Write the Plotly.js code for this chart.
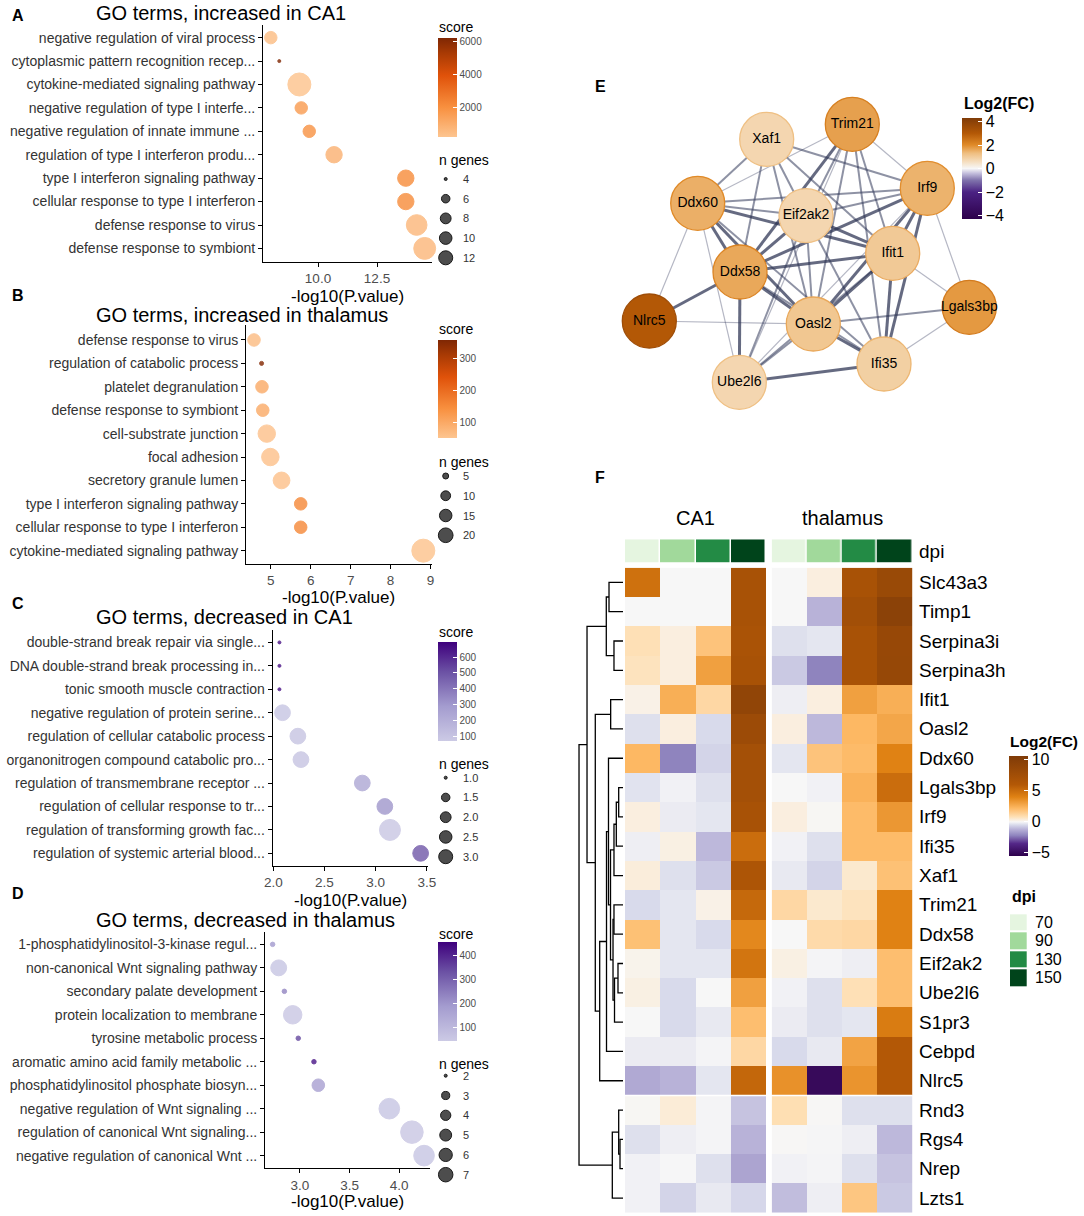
<!DOCTYPE html>
<html><head><meta charset="utf-8">
<script src="https://cdn.plot.ly/plotly-3.0.1.min.js"></script>
<style>html,body{margin:0;padding:0;background:#fff}#chart{width:1084px;height:1216px}</style>
</head><body><div id="chart"></div>
<script>
// ---------------- DATA ----------------
// Panel A
const termsA=['negative regulation of viral process','cytoplasmic pattern recognition recep...','cytokine-mediated signaling pathway','negative regulation of type I interfe...','negative regulation of innate immune ...','regulation of type I interferon produ...','type I interferon signaling pathway','cellular response to type I interferon','defense response to virus','defense response to symbiont'];
const pA=[8.0,8.36,9.21,9.29,9.63,10.68,13.72,13.72,14.18,14.52];
const nA=[6,4,13,6,6,8,8,8,11,12];
const scoreA=[500,6200,300,1600,1900,900,2100,2100,700,700];
const xTickValsA=[10,12.5], xTickTextA=['10.0','12.5'];
const scoreTicksA=[2000,4000,6000];
const nBreaksA=[4,6,8,10,12];
// Panel B
const termsB=['defense response to virus','regulation of catabolic process','platelet degranulation','defense response to symbiont','cell-substrate junction','focal adhesion','secretory granule lumen','type I interferon signaling pathway','cellular response to type I interferon','cytokine-mediated signaling pathway'];
const pB=[4.58,4.77,4.78,4.80,4.90,4.99,5.27,5.75,5.75,8.82];
const nB=[6,2,6,6,12,12,11,6,6,22];
const scoreB=[65,350,95,95,55,55,55,150,150,52];
const xTickValsB=[5,6,7,8,9], xTickTextB=['5','6','7','8','9'];
const scoreTicksB=[100,200,300];
const nBreaksB=[5,10,15,20];
// Panel C
const termsC=['double-strand break repair via single...','DNA double-strand break processing in...','tonic smooth muscle contraction','negative regulation of protein serine...','regulation of cellular catabolic process','organonitrogen compound catabolic pro...','regulation of transmembrane receptor ...','regulation of cellular response to tr...','regulation of transforming growth fac...','regulation of systemic arterial blood...'];
const pC=[2.06,2.06,2.06,2.09,2.24,2.27,2.87,3.09,3.14,3.44];
const nC=[1,1,1,2,2,2,2,2,3,2];
const scoreC=[660,660,660,95,100,100,230,300,85,480];
const xTickValsC=[2,2.5,3,3.5], xTickTextC=['2.0','2.5','3.0','3.5'];
const scoreTicksC=[100,200,300,400,500,600];
const nBreaksC=[1,1.5,2,2.5,3];
// Panel D
const termsD=['1-phosphatidylinositol-3-kinase regul...','non-canonical Wnt signaling pathway','secondary palate development','protein localization to membrane','tyrosine metabolic process','aromatic amino acid family metabolic ...','phosphatidylinositol phosphate biosyn...','negative regulation of Wnt signaling ...','regulation of canonical Wnt signaling...','negative regulation of canonical Wnt ...'];
const pD=[2.725,2.786,2.843,2.927,2.983,3.141,3.185,3.90,4.128,4.25];
const nD=[2,4,2,5,2,2,3,6,7,6];
const scoreD=[190,60,230,55,340,420,170,60,55,60];
const xTickValsD=[3,3.5,4], xTickTextD=['3.0','3.5','4.0'];
const scoreTicksD=[100,200,300,400];
const nBreaksD=[2,3,4,5,6,7];
// Panel E (network)
const nodeNames=['Xaf1','Trim21','Irf9','Ddx60','Eif2ak2','Ifit1','Ddx58','Nlrc5','Oasl2','Lgals3bp','Ifi35','Ube2l6'];
const nodeX=[766.7,852.3,927.3,697.7,806,892.7,740,649.3,813.3,969.3,884,739.3];
const nodeY=[139.3,124.3,188.3,203.3,215.7,253.3,272,321,324,307.3,364,382.3];
const nodeFC=[0.75,1.7,1.45,1.5,0.75,1.05,1.6,3.0,1.1,1.8,0.9,0.75];
const edgeFrom=['Nlrc5','Nlrc5','Nlrc5','Ddx60','Ddx60','Ddx60','Ddx60','Ddx60','Ddx60','Ddx60','Ddx60','Ddx60','Xaf1','Xaf1','Xaf1','Xaf1','Xaf1','Trim21','Trim21','Trim21','Trim21','Trim21','Trim21','Trim21','Irf9','Irf9','Irf9','Irf9','Irf9','Irf9','Irf9','Eif2ak2','Eif2ak2','Eif2ak2','Eif2ak2','Eif2ak2','Ifit1','Ifit1','Ifit1','Ifit1','Ifit1','Ddx58','Ddx58','Ddx58','Oasl2','Oasl2','Oasl2','Lgals3bp','Ube2l6'];
const edgeTo=['Ddx60','Ddx58','Oasl2','Xaf1','Trim21','Irf9','Eif2ak2','Ifit1','Ddx58','Oasl2','Ube2l6','Ifi35','Ddx58','Eif2ak2','Ifit1','Irf9','Oasl2','Ddx58','Eif2ak2','Oasl2','Ifit1','Ifi35','Irf9','Ube2l6','Eif2ak2','Ddx58','Ifit1','Oasl2','Ifi35','Lgals3bp','Ube2l6','Ddx58','Ifit1','Oasl2','Ifi35','Ube2l6','Ddx58','Oasl2','Ifi35','Lgals3bp','Ube2l6','Oasl2','Ube2l6','Ifi35','Lgals3bp','Ifi35','Ube2l6','Ifi35','Ifi35'];
const edgeW=[1,3,1,2,1,2,2,3,3,3,1,2,2,2,2,2,2,3,2,2,2,2,1,1,2,3,3,3,3,1,1,3,3,2,2,2,3,3,3,1,2,3,3,2,2,3,2,1,3];
const fcTicksE=[-4,-2,0,2,4];
// Panel F (heatmap)
const genes=['Slc43a3','Timp1','Serpina3i','Serpina3h','Ifit1','Oasl2','Ddx60','Lgals3bp','Irf9','Ifi35','Xaf1','Trim21','Ddx58','Eif2ak2','Ube2l6','S1pr3','Cebpd','Nlrc5','Rnd3','Rgs4','Nrep','Lzts1'];
const ca1FC=[[4.8,0,0,7],[0,0,0,7],[0.8,0.3,1.8,6.8],[0.7,0.3,3,7],[0.2,2.5,1.1,9],[-0.4,0.3,-0.5,8],[2.2,-2.2,-0.6,7.3],[-0.35,-0.1,-0.4,7.3],[0.3,-0.2,-0.3,7],[-0.15,0.25,-1.1,5],[0.35,-0.4,-0.8,6.5],[-0.5,-0.3,0.2,5.2],[1.9,-0.3,-0.5,3.8],[0.15,-0.3,-0.3,4.6],[0.25,-0.5,0,3],[0,-0.5,-0.25,2],[-0.2,-0.2,-0.05,1.1],[-1.4,-1.2,-0.3,5.3],[0.05,0.4,-0.05,-0.9],[-0.4,-0.15,-0.05,-1.2],[-0.1,-0.02,-0.4,-1.5],[-0.1,-0.6,-0.25,-0.55]];
const thalFC=[[0,0.3,7,8.3],[0,-1.2,7.5,9.5],[-0.4,-0.3,7,8.5],[-0.8,-2.2,7,8.6],[-0.15,0.3,3,2.5],[0.3,-1.1,2.2,2.8],[-0.3,1.8,2.1,4],[0,-0.1,2.4,5],[0.3,0.05,2.1,3.3],[-0.1,-0.4,2.1,2.1],[-0.25,-0.6,0.5,1.9],[1.1,0.5,0.7,4],[0,1.0,1.1,4],[0.25,-0.05,-0.15,2],[-0.1,-0.4,0.8,2],[-0.2,-0.4,-0.3,4.3],[-0.5,-0.25,2.9,6],[3.5,-5,3.4,6],[0.85,0.03,-0.4,-0.4],[0.02,-0.03,-0.15,-1.1],[-0.1,-0.05,-0.4,-0.9],[-1.0,-0.15,1.7,-0.8]];
const dpiLevels=[70,90,130,150];
const dpiColors=['#E5F5E0','#A1D99B','#238B45','#00441B'];
const groups=['CA1','thalamus'];
const fcTicksF=[-5,0,5,10];
// dendrogram (R hclust style: negative = leaf index 1-based, positive = merge step)
const mergeA=[-1,-3,1,-5,-8,5,6,-12,-14,9,8,7,-7,13,14,4,3,-20,-19,19,17];
const mergeB=[-2,-4,2,-6,-9,-10,-11,-13,-15,-16,10,11,12,-17,-18,15,16,-21,18,-22,20];
const mergeH=[3.18,2.05,3.8,2.8,0.98,1.52,2.05,2.05,1.14,1.93,2.27,2.84,3.3,3.75,5.3,6.3,8.18,0.68,0.98,2.43,10];

// ---------------- HELPERS ----------------
const W=1084,H=1216;
const FONT='Liberation Sans, Arial, Helvetica, sans-serif';
const xd=(a,b)=>[a/W,b/W];
const yd=(a,b)=>[1-b/H,1-a/H];
const traces=[],annotations=[],shapes=[];
function ann(text,x,y,o){annotations.push(Object.assign({text:text,x:x/W,y:1-y/H,xref:'paper',yref:'paper',showarrow:false,xanchor:'center',yanchor:'middle',font:{size:14,color:'#000',family:FONT}},o||{}));}
const layout={width:W,height:H,margin:{l:0,r:0,t:0,b:0,pad:0},paper_bgcolor:'#ffffff',plot_bgcolor:'rgba(0,0,0,0)',showlegend:false,font:{family:FONT,color:'#000'},annotations:annotations,shapes:shapes,hovermode:false};
const orangeCS=[[0,'#FDC590'],[0.3,'#F8903F'],[0.62,'#E0520A'],[0.85,'#A83A04'],[1,'#7F2704']];
const purpleCS=[[0,'#CCCAE5'],[0.35,'#A49CCF'],[0.7,'#6B51A4'],[1,'#3F007D']];
function cbar(x,top,bottom,thick,ticks,fontSize,color){
  return {x:x/W,xanchor:'left',xpad:0,y:1-top/H,yanchor:'top',ypad:0,lenmode:'pixels',len:bottom-top,thicknessmode:'pixels',thickness:thick,
    outlinewidth:0,ticks:'inside',ticklen:4,tickwidth:1,tickcolor:'#ffffff',tickvals:ticks,ticktext:ticks.map(v=>String(v).replace('-','\u2212')),
    tickfont:{size:fontSize,color:color,family:FONT},title:{text:''}};
}
// overlay pixel axes for legends
layout.xaxis10={domain:[0,1],range:[0,W],visible:false,anchor:'y10',fixedrange:true};
layout.yaxis10={domain:[0,1],range:[H,0],visible:false,anchor:'x10',fixedrange:true};

// ---------------- PANELS A-D ----------------
const panels=[
 {k:1,label:'A',labelY:15,title:'GO terms, increased in CA1',titleY:13,terms:termsA,p:pA,n:nA,score:scoreA,box:[263,432,25,262],xr:[7.67,14.83],yr:[9.58,-0.54],tv:xTickValsA,tt:xTickTextA,cs:orangeCS,cr:[250,6250],cb:[37.7,136.7],cbt:scoreTicksA,sz:[4,13,3,23],lsz:[3,14.7],br:nBreaksA,brY:[179,19.7],scoreY:26.7,nY:160,axY:296,fmt:0},
 {k:2,label:'B',labelY:295,title:'GO terms, increased in thalamus',titleY:315,terms:termsB,p:pB,n:nB,score:scoreB,box:[246,431.7,325,564],xr:[4.38,9.03],yr:[9.57,-0.64],tv:xTickValsB,tt:xTickTextB,cs:orangeCS,cr:[50,357],cb:[340,438.3],cbt:scoreTicksB,sz:[2,22,4,23],lsz:[0,15.5],br:nBreaksB,brY:[476,19.75],scoreY:329,nY:461.7,axY:597.3,fmt:0},
 {k:3,label:'C',labelY:603,title:'GO terms, decreased in CA1',titleY:616.7,terms:termsC,p:pC,n:nC,score:scoreC,box:[272.7,428,630,866],xr:[1.994,3.512],yr:[9.54,-0.53],tv:xTickValsC,tt:xTickTextC,cs:purpleCS,cr:[75,696],cb:[641.7,740.7],cbt:scoreTicksC,sz:[1,3,3,21],lsz:[3,14],br:nBreaksC,brY:[777.7,19.75],scoreY:631.7,nY:764,axY:900,fmt:1},
 {k:4,label:'D',labelY:893,title:'GO terms, decreased in thalamus',titleY:920,terms:termsD,p:pD,n:nD,score:scoreD,box:[265,430,931.7,1168.3],xr:[2.648,4.31],yr:[9.54,-0.54],tv:xTickValsD,tt:xTickTextD,cs:purpleCS,cr:[46,458],cb:[941.7,1040.7],cbt:scoreTicksD,sz:[2,7,4.5,22.5],lsz:[3,14.5],br:nBreaksD,brY:[1075.7,19.8],scoreY:934,nY:1064,axY:1201.7,fmt:0}
];
panels.forEach(c=>{
  const s=c.k===1?'':String(c.k);
  const sizeOf=(n,d0,d1)=>d0+(d1-d0)*Math.sqrt(Math.max(0,Math.min(1,(n-c.sz[0])/(c.sz[1]-c.sz[0]))));
  traces.push({type:'scatter',mode:'markers',x:c.p,y:c.terms,xaxis:'x'+s,yaxis:'y'+s,cliponaxis:false,hoverinfo:'skip',
    marker:{size:c.n.map(n=>sizeOf(n,c.sz[2],c.sz[3])),color:c.score,colorscale:c.cs,cmin:c.cr[0],cmax:c.cr[1],opacity:0.82,
      line:{width:1,color:c.score,colorscale:c.cs,cmin:c.cr[0],cmax:c.cr[1]},
      showscale:true,colorbar:cbar(437.7,c.cb[0],c.cb[1],19,c.cbt,10,'#4d4d4d')}});
  layout['xaxis'+s]={domain:xd(c.box[0],c.box[1]),range:c.xr,anchor:'y'+s,showline:true,linecolor:'#000',linewidth:1,ticks:'outside',ticklen:4,tickcolor:'#000',tickwidth:1,
    tickmode:'array',tickvals:c.tv,ticktext:c.tt,tickfont:{size:13.5,color:'#4d4d4d',family:FONT},showgrid:false,zeroline:false,fixedrange:true};
  layout['yaxis'+s]={domain:yd(c.box[2],c.box[3]),type:'category',categoryorder:'array',categoryarray:c.terms,range:c.yr,anchor:'x'+s,showline:true,linecolor:'#000',linewidth:1,
    ticks:'outside',ticklen:4,tickcolor:'#000',tickwidth:1,tickfont:{size:14,color:'#333',family:FONT},showgrid:false,zeroline:false,fixedrange:true};
  ann('<b>'+c.label+'</b>',18,c.labelY,{font:{size:16,color:'#000',family:FONT}});
  ann(c.title,94,c.titleY,{xanchor:'left',font:{size:20,color:'#000',family:FONT}});
  ann('-log10(P.value)',(c.box[0]+c.box[1])/2,c.axY,{font:{size:17,color:'#000',family:FONT}});
  ann('score',437,c.scoreY,{xanchor:'left',font:{size:14,color:'#000',family:FONT}});
  ann('n genes',437,c.nY,{xanchor:'left',font:{size:14,color:'#000',family:FONT}});
  const ly=c.br.map((b,i)=>c.brY[0]+i*c.brY[1]);
  traces.push({type:'scatter',mode:'markers',x:c.br.map(()=>445.7),y:ly,xaxis:'x10',yaxis:'y10',cliponaxis:false,hoverinfo:'skip',
    marker:{size:c.br.map(b=>sizeOf(b,c.lsz[0],c.lsz[1])),color:'#3a3a3a',opacity:0.9,line:{width:1,color:'#000'}}});
  c.br.forEach((b,i)=>ann(c.fmt?b.toFixed(1):String(b),461,ly[i],{xanchor:'left',font:{size:11,color:'#333',family:FONT}}));
});

// ---------------- PANEL E ----------------
ann('<b>E</b>',600,86.7,{font:{size:16,color:'#000',family:FONT}});
layout.xaxis5={domain:xd(620,1000),range:[620,1000],visible:false,anchor:'y5',fixedrange:true};
layout.yaxis5={domain:yd(90,410),range:[410,90],visible:false,anchor:'x5',fixedrange:true};
const edgeStyle={1:{w:1.2,c:'rgba(60,66,100,0.38)'},2:{w:2.0,c:'rgba(50,56,90,0.55)'},3:{w:3.0,c:'rgba(42,48,80,0.72)'}};
[1,2,3].forEach(wt=>{
  const ex=[],ey=[];
  edgeFrom.forEach((f,i)=>{ if(edgeW[i]!==wt) return; const a=nodeNames.indexOf(f),b=nodeNames.indexOf(edgeTo[i]);
    ex.push(nodeX[a],nodeX[b],null); ey.push(nodeY[a],nodeY[b],null);});
  traces.push({type:'scatter',mode:'lines',x:ex,y:ey,xaxis:'x5',yaxis:'y5',hoverinfo:'skip',line:{width:edgeStyle[wt].w,color:edgeStyle[wt].c}});
});
const fcCS_E=[[0,'#2D004B'],[0.267,'#4B2283'],[0.384,'#8073AC'],[0.453,'#C4BFDD'],[0.5,'#F7F7F7'],[0.57,'#F5DDBD'],[0.651,'#EFBE80'],[0.733,'#E08A28'],[0.849,'#B35806'],[1,'#7F3B08']];
traces.push({type:'scatter',mode:'markers+text',x:nodeX,y:nodeY,text:nodeNames,textposition:'middle center',textfont:{size:14,color:'#000',family:FONT},
  xaxis:'x5',yaxis:'y5',cliponaxis:false,hoverinfo:'skip',
  marker:{size:54,color:nodeFC,colorscale:fcCS_E,cmin:-4.3,cmax:4.3,opacity:1,
    line:{width:1.3,color:nodeFC.map(v=>v+0.5),colorscale:fcCS_E,cmin:-4.3,cmax:4.3},
    showscale:true,colorbar:cbar(962.3,118.3,219.3,20,fcTicksE,16,'#000')}});
ann('<b>Log2(FC)</b>',999.3,103.3,{font:{size:16,color:'#000',family:FONT}});

// ---------------- PANEL F ----------------
ann('<b>F</b>',600,477.3,{font:{size:16,color:'#000',family:FONT}});
const rowIdx=genes.map((g,i)=>i);
const colIdx=[0,1,2,3];
layout.xaxis6={domain:xd(625,766),range:[-0.5,3.5],visible:false,anchor:'y6',fixedrange:true};
layout.xaxis7={domain:xd(771.7,912.3),range:[-0.5,3.5],visible:false,anchor:'y6',fixedrange:true};
layout.yaxis6={domain:yd(539.3,562.7),range:[-0.5,0.5],visible:false,anchor:'x6',fixedrange:true};
layout.yaxis7={domain:yd(567.7,1212.7),range:[genes.length-0.5,-0.5],visible:false,anchor:'x6',fixedrange:true};
const dMin=dpiLevels[0],dMax=dpiLevels[dpiLevels.length-1];
const dpiCS=[];
dpiLevels.forEach((lv,i)=>{
  const lo=i===0?0:((dpiLevels[i-1]+lv)/2-dMin)/(dMax-dMin);
  const hi=i===dpiLevels.length-1?1:((dpiLevels[i+1]+lv)/2-dMin)/(dMax-dMin);
  dpiCS.push([lo,dpiColors[i]],[hi,dpiColors[i]]);
});
['x6','x7'].forEach(xa=>traces.push({type:'heatmap',x:colIdx,y:[0],z:[dpiLevels],xaxis:xa,yaxis:'y6',colorscale:dpiCS,zmin:dMin,zmax:dMax,showscale:false,xgap:1.5,hoverinfo:'skip'}));
const zLo=-5.5,zHi=10.6;
const heatStops=[[-5.5,'#2D004B'],[-3.5,'#542788'],[-2.2,'#8F84BE'],[-1.2,'#B8B2D8'],[-0.5,'#D8DAEB'],[0,'#F7F7F7'],[0.8,'#FEE0B6'],[2.2,'#FDB863'],[4,'#E08214'],[6,'#B35806'],[10.6,'#7F3B08']];
const heatCS=heatStops.map(s=>[(s[0]-zLo)/(zHi-zLo),s[1]]);
traces.push({type:'heatmap',x:colIdx,y:rowIdx,z:ca1FC,xaxis:'x6',yaxis:'y7',colorscale:heatCS,zmin:zLo,zmax:zHi,hoverinfo:'skip',
  showscale:true,colorbar:cbar(1009,756,856,19.3,fcTicksF,16,'#000')});
traces.push({type:'heatmap',x:colIdx,y:rowIdx,z:thalFC,xaxis:'x7',yaxis:'y7',colorscale:heatCS,zmin:zLo,zmax:zHi,showscale:false,hoverinfo:'skip'});
ann('<b>Log2(FC)</b>',1008,741.7,{xanchor:'left',font:{size:15.5,color:'#000',family:FONT}});
shapes.push({type:'line',xref:'paper',yref:'y7',x0:625/W,x1:912.3/W,y0:17.5,y1:17.5,line:{color:'#ffffff',width:1.5}});
ann(groups[0],695.5,518.3,{font:{size:20,color:'#000',family:FONT}});
ann(groups[1],842,518.3,{font:{size:20,color:'#000',family:FONT}});
ann('dpi',917,551,{xanchor:'left',font:{size:19,color:'#000',family:FONT}});
genes.forEach((g,i)=>annotations.push({text:g,xref:'paper',x:917/W,yref:'y7',y:i,xanchor:'left',yanchor:'middle',showarrow:false,font:{size:19,color:'#000',family:FONT}}));
// dendrogram
layout.xaxis8={domain:xd(570,623),range:[12.05,0],visible:false,anchor:'y7',fixedrange:true};
(function(){
  const nY=[],nH=[],xs=[],ys=[];
  const gY=id=>id<0?(-id-1):nY[id-1], gH=id=>id<0?0:nH[id-1];
  for(let m=0;m<mergeA.length;m++){
    const a=mergeA[m],b=mergeB[m],h=mergeH[m],ya=gY(a),yb=gY(b);
    xs.push(gH(a),h,h,gH(b),null); ys.push(ya,ya,yb,yb,null);
    nY.push((ya+yb)/2); nH.push(h);
  }
  traces.push({type:'scatter',mode:'lines',x:xs,y:ys,xaxis:'x8',yaxis:'y7',hoverinfo:'skip',line:{color:'#000',width:1.3}});
})();
// dpi legend
layout.xaxis9={domain:xd(1010,1026.7),range:[-0.5,0.5],visible:false,anchor:'y9',fixedrange:true};
layout.yaxis9={domain:yd(913.3,987),range:[dpiLevels.length-0.5,-0.5],visible:false,anchor:'x9',fixedrange:true};
traces.push({type:'heatmap',x:[0],y:dpiLevels.map((d,i)=>i),z:dpiLevels.map(d=>[d]),xaxis:'x9',yaxis:'y9',colorscale:dpiCS,zmin:dMin,zmax:dMax,showscale:false,ygap:2,hoverinfo:'skip'});
ann('<b>dpi</b>',1010,896.7,{xanchor:'left',font:{size:16,color:'#000',family:FONT}});
dpiLevels.forEach((d,i)=>annotations.push({text:String(d),xref:'paper',x:1032.7/W,yref:'y9',y:i,xanchor:'left',yanchor:'middle',showarrow:false,font:{size:16,color:'#000',family:FONT}}));

Plotly.newPlot('chart',traces,layout,{staticPlot:true,displayModeBar:false});
</script>
</body></html>
